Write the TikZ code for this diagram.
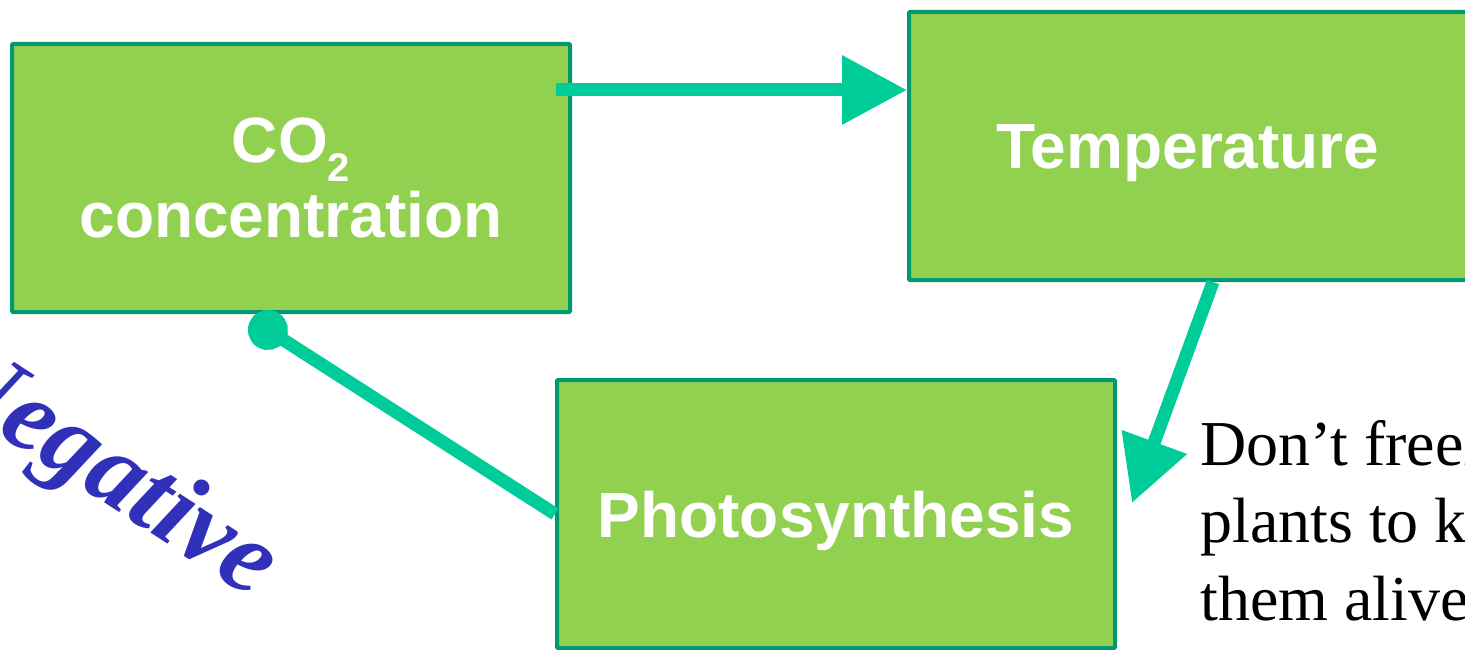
\documentclass[tikz,border=0pt]{standalone}
\usepackage{fontspec}
\setmainfont{Liberation Serif}
\setsansfont{Liberation Sans}
\usetikzlibrary{arrows.meta}
\definecolor{boxfill}{HTML}{92D050}
\definecolor{boxline}{HTML}{009970}
\definecolor{linkcol}{HTML}{00CC99}
\definecolor{notecol}{HTML}{3030B8}
\begin{document}
\begin{tikzpicture}[x=1pt,y=-1pt,
  block/.style={draw=boxline, line width=4pt, fill=boxfill, rounded corners=1pt,
    minimum width=558pt, minimum height=268pt, inner sep=0pt, text=white,
    font=\sffamily\bfseries\fontsize{64}{75}\selectfont, align=center},
  oneline/.style={text depth=0pt},
  link/.style={draw=linkcol, line width=13pt},
  head/.style={-{Triangle[length=65pt,width=66pt]}},
  blob/.style={-{Circle[length=40pt]}},
  ]
\useasboundingbox (0,0) rectangle (1465,650);
\clip (0,0) rectangle (1465,650);

% the three quantities of the loop
\node[block] (co) at (291,178) {CO\raisebox{-0.3em}{\fontsize{40}{40}\selectfont 2}\\concentration};
\node[block, oneline] (temp) at (1188,146) {Temperature};
\node[block, oneline] (photo) at (836,514) {Photosynthesis};

% connectors
\coordinate (a1) at (556,90);
\draw[link, head] (a1) -- (temp.west |- a1);

\coordinate (a2s) at (1213,282);
\coordinate (a2e) at (1132,503);
\draw[link, head] (a2s) -- (a2e);

\coordinate (dot) at (251.1,319.2);
\draw[link, blob] (photo.west) -- (dot);

% labels
\node[rotate=-33, anchor=base east, inner sep=0pt, text=notecol,
  font=\fontsize{106}{106}\selectfont\bfseries\itshape] (neg) at (252,599) {Negative};

\node[anchor=base west, align=left, inner sep=0pt,
  font=\fontsize{64}{77.5}\selectfont] (note) at (1200,620)
  {Don’t freeze\\plants to keep\\them alive};
\end{tikzpicture}
\end{document}
